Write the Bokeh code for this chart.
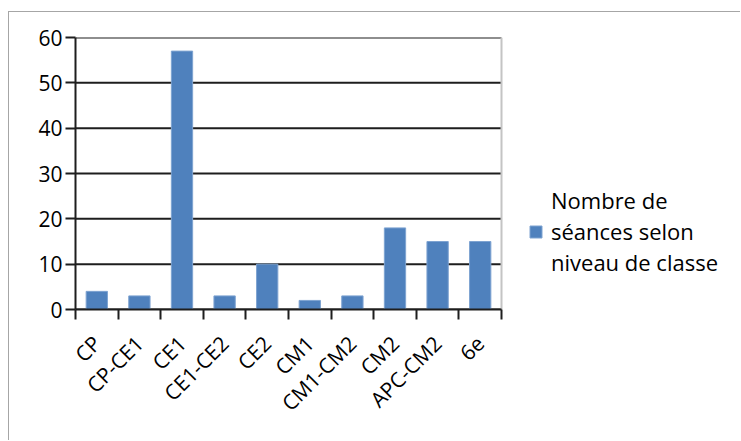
import math
from bokeh.plotting import figure
from bokeh.models import Range1d, FixedTicker, Legend, LegendItem
from bokeh.embed import file_html
from bokeh.resources import INLINE

categories = ["CP", "CP-CE1", "CE1", "CE1-CE2", "CE2", "CM1", "CM1-CM2", "CM2", "APC-CM2", "6e"]
values = [4, 3, 57, 3, 10, 2, 3, 18, 15, 15]
y_ticks = [0, 10, 20, 30, 40, 50, 60]
series_lines = ["Nombre de", "séances selon", "niveau de classe"]

FONT = "Open Sans"
BAR = "#4f81bd"
FS = "21px"
LINE = "#1e1e1e"

W, H = 732, 429
BL, BR, BT, BB = 66, 5, 25, 132
CAT_PX = 42.6  # pixel width of one category slot

n = len(categories)
centers = [i + 0.5 for i in range(n)]
bounds = list(range(n + 1))
x_max = (W - BL - BR) / CAT_PX  # frame extends to the right to host the legend

p = figure(width=W, height=H, output_backend="svg", toolbar_location=None,
           x_range=Range1d(0, x_max), y_range=Range1d(0, 60),
           min_border_left=BL, min_border_right=BR, min_border_top=BT, min_border_bottom=BB)
p.margin = (11, 0, 0, 8)
p.styles = {"border-top": "1px solid #a6a6a6", "border-left": "1px solid #a6a6a6"}

p.outline_line_color = None
p.background_fill_color = "white"
p.border_fill_color = "white"
p.xgrid.visible = False
p.ygrid.visible = False

# horizontal gridlines limited to the category area, and the light right edge of the plot area
p.segment(x0=[0] * len(y_ticks), x1=[n] * len(y_ticks), y0=y_ticks, y1=y_ticks,
          line_color=LINE, line_width=2)
p.segment(x0=[n], x1=[n], y0=[0], y1=[y_ticks[-1]], line_color="#c4c4c4", line_width=2)

r = p.vbar(x=centers, top=values, width=0.5, fill_color=BAR, line_color="#7ea3d1", line_width=1)
# invisible renderer used only for the extra lines of the wrapped legend label
ghost = p.vbar(x=[], top=[], width=0.5, fill_alpha=0, line_alpha=0)

# y axis
p.yaxis.ticker = FixedTicker(ticks=y_ticks)
p.yaxis.axis_line_color = LINE
p.yaxis.axis_line_width = 2
p.yaxis.major_tick_line_color = LINE
p.yaxis.major_tick_line_width = 2
p.yaxis.major_tick_out = 10
p.yaxis.major_tick_in = 0
p.yaxis.minor_tick_line_color = None
p.yaxis.major_label_text_font = FONT
p.yaxis.major_label_text_font_size = FS
p.yaxis.major_label_text_color = "black"
p.yaxis.major_label_standoff = 3

# x axis: labels at centers, tick marks at boundaries
p.xaxis.bounds = (0, n)
p.xaxis.ticker = FixedTicker(ticks=centers, minor_ticks=bounds)
p.xaxis.major_label_overrides = {c: lab for c, lab in zip(centers, categories)}
p.xaxis.major_tick_line_color = None
p.xaxis.major_tick_out = 0
p.xaxis.major_tick_in = 0
p.xaxis.minor_tick_line_color = LINE
p.xaxis.minor_tick_line_width = 2
p.xaxis.minor_tick_out = 10
p.xaxis.minor_tick_in = 0
p.xaxis.axis_line_color = LINE
p.xaxis.axis_line_width = 2
p.xaxis.major_label_orientation = math.pi / 4
p.xaxis.major_label_text_font = FONT
p.xaxis.major_label_text_font_size = FS
p.xaxis.major_label_text_color = "black"
p.xaxis.major_label_standoff = 20

items = [
    LegendItem(label=series_lines[0], renderers=[ghost]),
    LegendItem(label=series_lines[1], renderers=[r]),
    LegendItem(label=series_lines[2], renderers=[ghost]),
]
legend = Legend(items=items, location=(453, 32), border_line_color=None, background_fill_alpha=0,
                label_text_font=FONT, label_text_font_size="22px", label_text_color="black",
                glyph_width=15, glyph_height=15, label_height=25, spacing=1,
                padding=0, margin=0, label_standoff=8)
p.add_layout(legend, "center")

open("out.html", "w").write(file_html(p, INLINE))
